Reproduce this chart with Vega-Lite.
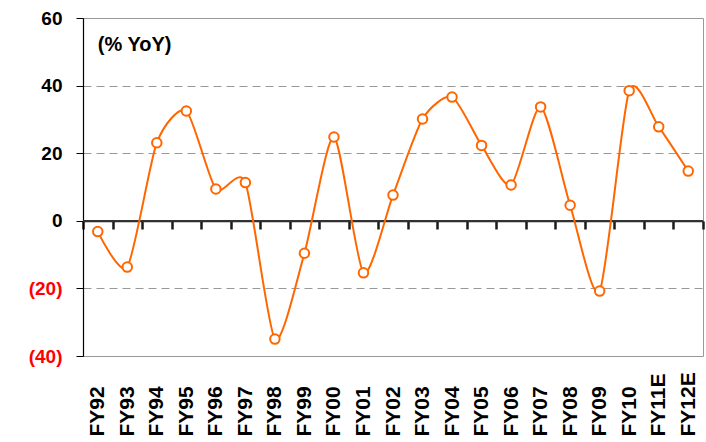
{
  "$schema": "https://vega.github.io/schema/vega-lite/v6.json",
  "width": 620,
  "height": 338,
  "autosize": {"type": "none"},
  "padding": {"left": 83, "top": 18, "right": 3, "bottom": 86},
  "background": "white",
  "config": {
    "view": {"stroke": "#999999", "strokeWidth": 1},
    "font": "Liberation Sans"
  },
  "data": {
    "values": [
      {"fy": "FY92", "v": -3.2},
      {"fy": "FY93", "v": -13.7},
      {"fy": "FY94", "v": 23.1},
      {"fy": "FY95", "v": 32.5},
      {"fy": "FY96", "v": 9.4},
      {"fy": "FY97", "v": 11.3},
      {"fy": "FY98", "v": -35},
      {"fy": "FY99", "v": -9.6},
      {"fy": "FY00", "v": 24.8},
      {"fy": "FY01", "v": -15.4},
      {"fy": "FY02", "v": 7.6},
      {"fy": "FY03", "v": 30.1},
      {"fy": "FY04", "v": 36.6},
      {"fy": "FY05", "v": 22.3},
      {"fy": "FY06", "v": 10.6},
      {"fy": "FY07", "v": 33.7},
      {"fy": "FY08", "v": 4.6},
      {"fy": "FY09", "v": -20.8},
      {"fy": "FY10", "v": 38.5},
      {"fy": "FY11E", "v": 27.8},
      {"fy": "FY12E", "v": 14.7}
    ]
  },
  "layer": [
    {
      "mark": {"type": "rule", "color": "#333333", "strokeWidth": 1.2},
      "encoding": {"y": {"datum": 0}}
    },
    {
      "mark": {"type": "line", "interpolate": "cardinal", "tension": 0.3, "color": "#FF6600", "strokeWidth": 2},
      "encoding": {
        "x": {
          "field": "fy", "type": "nominal", "sort": null,
          "scale": {"paddingInner": 0, "paddingOuter": 0},
          "axis": {
            "orient": "bottom", "title": null, "offset": -135, "grid": false,
            "domain": true, "domainColor": "#222222", "domainWidth": 1.5,
            "ticks": true, "tickBand": "extent", "tickSize": 8, "tickColor": "#1a1a1a", "tickWidth": 2.5,
            "labelAngle": -90, "labelAlign": "left", "labelBaseline": "middle",
            "labelPadding": 207, "labelFont": "Liberation Sans", "labelFontSize": 21,
            "labelFontWeight": "bold", "labelColor": "black"
          }
        },
        "y": {
          "field": "v", "type": "quantitative",
          "scale": {"domain": [-40, 60], "nice": false, "zero": false},
          "axis": {
            "title": null, "values": [-40, -20, 0, 20, 40, 60],
            "domainColor": "black", "tickColor": "black", "tickSize": 7, "domainWidth": 1.2,
            "labelPadding": 14,
            "labelFont": "Liberation Sans", "labelFontSize": 19,
            "labelFontWeight": "bold",
            "labelExpr": "datum.value < 0 ? '(' + abs(datum.value) + ')' : datum.value",
            "labelColor": {"condition": {"test": "datum.value < 0", "value": "#FF0000"}, "value": "black"},
            "grid": true, "gridColor": "#999999", "gridDash": [8, 5], "gridWidth": 1
          }
        }
      }
    },
    {
      "mark": {"type": "point", "shape": "circle", "filled": true, "fill": "white", "stroke": "#FF6600", "strokeWidth": 2, "size": 90, "opacity": 1},
      "encoding": {
        "x": {"field": "fy", "type": "nominal", "sort": null},
        "y": {"field": "v", "type": "quantitative"}
      }
    },
    {
      "data": {"values": [{"fy": "FY92", "v": 52, "label": "(% YoY)"}]},
      "mark": {"type": "text", "align": "left", "baseline": "middle", "font": "Liberation Sans", "fontSize": 20, "fontWeight": "bold", "color": "black"},
      "encoding": {
        "x": {"field": "fy", "type": "nominal", "sort": null},
        "y": {"field": "v", "type": "quantitative"},
        "text": {"field": "label"}
      }
    }
  ]
}
